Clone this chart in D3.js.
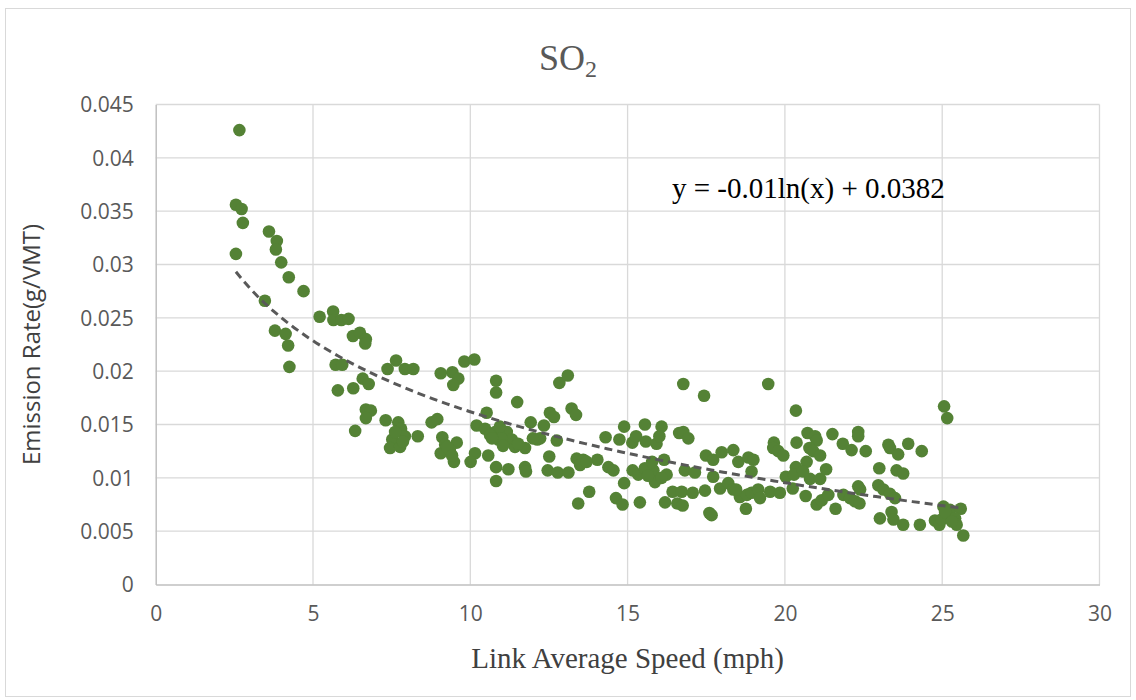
<!DOCTYPE html>
<html>
<head>
<meta charset="utf-8">
<script src="https://cdn.jsdelivr.net/npm/d3@7"></script>
<style>
  body { margin: 0; background: #fff; }
  svg { display: block; }
</style>
</head>
<body>
<div id="chart"></div>
<script>
// link average speed (mph)
const speeds = [
  2.66, 2.55, 2.73, 2.77, 2.55, 3.60, 3.85, 3.82, 3.99, 4.23, 4.70, 3.47, 3.79, 4.13, 4.21, 4.25,
  5.21, 5.64, 5.65, 5.90, 6.13, 6.27, 6.49, 6.68, 6.66, 5.72, 5.93, 5.79, 6.28, 6.58, 6.77,
  7.37, 7.64, 7.92, 8.19, 9.06, 9.43, 9.62, 9.46, 9.81, 10.13, 6.68, 6.84, 6.68, 6.34,
  7.31, 7.71, 7.80, 7.92, 7.52, 7.45, 7.77, 8.33, 8.77, 8.95, 9.11, 9.20, 9.06, 9.48, 9.57, 9.35,
  10.15, 10.01, 10.20, 9.26, 9.42, 7.61, 7.86,
  10.52, 10.47, 10.79, 10.89, 11.16, 11.32, 11.42, 11.74, 10.82, 10.82, 11.49,
  12.83, 13.10, 13.22, 13.36, 11.92, 12.34, 12.53, 12.66, 12.13, 12.75,
  10.57, 10.82, 11.21, 10.82, 11.74, 11.77, 12.51, 12.46, 12.78, 13.12, 13.38, 13.59, 13.49, 14.04,
  13.78, 13.43, 14.39, 14.55, 14.89, 14.63, 14.84, 14.30, 14.74, 14.89, 15.15, 15.27, 15.55, 15.58,
  15.16, 15.34, 15.39, 15.92, 16.08, 16.01, 15.82, 15.87, 16.16, 16.24, 16.08, 16.43, 16.19, 16.58, 16.64,
  11.00, 10.63, 12.22, 13.70, 15.55, 15.65, 15.78, 10.69, 10.94, 11.04, 11.52, 11.99,
  16.77, 17.43, 19.47, 20.35, 16.77, 16.93, 16.82, 17.14,
  17.49, 17.72, 17.99, 18.36, 18.52, 18.84, 19.00, 18.94,
  17.72, 17.94, 18.20, 18.36, 18.57, 18.79, 18.94, 19.15, 19.21, 19.53, 19.84,
  16.72, 17.07, 17.46, 16.75, 17.60, 17.67, 18.76, 19.65, 19.63, 19.79, 19.95,
  20.37, 20.72, 20.96, 21.01, 20.78, 20.90, 21.12, 20.69,
  20.35, 20.03, 20.29, 20.58, 20.80, 21.12, 21.31, 21.51, 21.84, 22.12, 22.33, 22.33, 22.57,
  20.25, 20.66, 21.01, 21.17, 21.38, 21.61, 21.86, 22.07, 22.23, 22.33, 22.37, 18.45,
  23.00, 23.29, 23.34, 23.60, 23.92, 24.35, 23.55, 23.76,
  22.97, 23.13, 23.34, 23.50, 23.39, 23.45, 23.02,
  23.76, 24.29, 24.77, 24.91, 25.04, 25.25, 25.59, 25.19, 25.41, 25.46, 25.67,
  25.06, 25.16, 22.39, 24.98, 25.09, 25.31
];

// SO2 emission rate (g/VMT), same order as speeds
const rates = [
  0.0426, 0.0356, 0.0352, 0.0339, 0.0310, 0.0331, 0.0322, 0.0314, 0.0302, 0.0288, 0.0275, 0.0266, 0.0238, 0.0235, 0.0224, 0.0204,
  0.0251, 0.0256, 0.0248, 0.0248, 0.0249, 0.0233, 0.0236, 0.0230, 0.0226, 0.0206, 0.0206, 0.0182, 0.0184, 0.0193, 0.0188,
  0.0202, 0.0210, 0.0202, 0.0202, 0.0198, 0.0199, 0.0193, 0.0187, 0.0209, 0.0211, 0.0164, 0.0163, 0.0156, 0.0144,
  0.0154, 0.0152, 0.0146, 0.0139, 0.0136, 0.0128, 0.0129, 0.0139, 0.0152, 0.0155, 0.0138, 0.0131, 0.0123, 0.0115, 0.0133, 0.0126,
  0.0123, 0.0115, 0.0149, 0.0129, 0.0121, 0.0143, 0.0134,
  0.0161, 0.0146, 0.0143, 0.0136, 0.0143, 0.0136, 0.0129, 0.0128, 0.0191, 0.0180, 0.0171,
  0.0189, 0.0196, 0.0165, 0.0159, 0.0152, 0.0149, 0.0161, 0.0157, 0.0136, 0.0135,
  0.0121, 0.0110, 0.0108, 0.0097, 0.0110, 0.0106, 0.0120, 0.0107, 0.0105, 0.0105, 0.0118, 0.0117, 0.0112, 0.0117,
  0.0087, 0.0076, 0.0110, 0.0107, 0.0095, 0.0081, 0.0075, 0.0138, 0.0136, 0.0148, 0.0133, 0.0139, 0.0150, 0.0134,
  0.0107, 0.0103, 0.0077, 0.0132, 0.0148, 0.0139, 0.0107, 0.0096, 0.0117, 0.0103, 0.0100, 0.0087, 0.0077, 0.0076, 0.0142,
  0.0137, 0.0140, 0.0137, 0.0115, 0.0109, 0.0102, 0.0115, 0.0137, 0.0148, 0.0130, 0.0132, 0.0137,
  0.0188, 0.0177, 0.0188, 0.0163, 0.0143, 0.0137, 0.0107, 0.0105,
  0.0121, 0.0117, 0.0124, 0.0126, 0.0115, 0.0119, 0.0117, 0.0106,
  0.0101, 0.0090, 0.0095, 0.0089, 0.0082, 0.0084, 0.0086, 0.0089, 0.0081, 0.0087, 0.0086,
  0.0087, 0.0086, 0.0088, 0.0074, 0.0067, 0.0065, 0.0071, 0.0133, 0.0128, 0.0125, 0.0121,
  0.0133, 0.0142, 0.0139, 0.0135, 0.0128, 0.0125, 0.0121, 0.0115,
  0.0110, 0.0101, 0.0103, 0.0106, 0.0099, 0.0099, 0.0108, 0.0141, 0.0132, 0.0126, 0.0143, 0.0139, 0.0125,
  0.0090, 0.0083, 0.0075, 0.0079, 0.0084, 0.0071, 0.0084, 0.0081, 0.0078, 0.0092, 0.0076, 0.0089,
  0.0109, 0.0131, 0.0128, 0.0122, 0.0132, 0.0125, 0.0107, 0.0104,
  0.0093, 0.0089, 0.0085, 0.0081, 0.0068, 0.0061, 0.0062,
  0.0056, 0.0056, 0.0060, 0.0056, 0.0073, 0.0070, 0.0071, 0.0064, 0.0062, 0.0056, 0.0046,
  0.0167, 0.0156, 0.0089, 0.0061, 0.0068, 0.0059
];

const xTicks = [0, 5, 10, 15, 20, 25, 30];
const yTicks = [0, 0.005, 0.01, 0.015, 0.02, 0.025, 0.03, 0.035, 0.04, 0.045];

// log trendline as drawn (label shows the rounded form)
const trendSlope = -0.0096;
const trendIntercept = 0.0383;
const trendLabel = 'y = -0.01ln(x) + 0.0382';

const width = 1136;
const height = 700;
const plot = { left: 155.7, right: 1099.5, top: 104.5, bottom: 584.5 };

const svg = d3.select('#chart')
  .append('svg')
  .attr('width', width)
  .attr('height', height);

// chart frame
svg.append('rect')
  .attr('x', 5.5)
  .attr('y', 8.5)
  .attr('width', 1125)
  .attr('height', 688)
  .attr('fill', '#fff')
  .attr('stroke', '#d9d9d9')
  .attr('stroke-width', 1);

const x = d3.scaleLinear().domain([0, 30]).range([plot.left, plot.right]);
const y = d3.scaleLinear().domain([0, 0.045]).range([plot.bottom, plot.top]);

// gridlines
const grid = svg.append('g').attr('class', 'grid');
grid.selectAll('line.v')
  .data(xTicks.slice(1))
  .join('line')
  .attr('class', 'v')
  .attr('x1', d => x(d)).attr('x2', d => x(d))
  .attr('y1', plot.top).attr('y2', plot.bottom)
  .attr('stroke', '#d9d9d9')
  .attr('stroke-width', 1.3);
grid.selectAll('line.h')
  .data(yTicks.slice(1))
  .join('line')
  .attr('class', 'h')
  .attr('x1', plot.left).attr('x2', plot.right)
  .attr('y1', d => y(d)).attr('y2', d => y(d))
  .attr('stroke', '#d9d9d9')
  .attr('stroke-width', 1.3);

// axes
const xAxis = svg.append('g')
  .attr('transform', `translate(0,${plot.bottom})`)
  .call(d3.axisBottom(x).tickValues(xTicks).tickSize(0).tickPadding(22).tickFormat(d3.format('d')));
const yAxis = svg.append('g')
  .attr('transform', `translate(${plot.left},0)`)
  .call(d3.axisLeft(y).tickValues(yTicks).tickSize(0).tickPadding(22).tickFormat(d => d === 0 ? '0' : String(+d.toFixed(3))));

[xAxis, yAxis].forEach(g => {
  g.select('.domain').attr('stroke', '#bfbfbf').attr('stroke-width', 1.5);
  g.selectAll('text')
    .attr('fill', '#595959')
    .style('font-family', '"Open Sans", sans-serif')
    .style('font-size', '21px');
});
yAxis.selectAll('text').attr('dy', '0.35em');
xAxis.selectAll('text').attr('dy', '0.71em');

// points
svg.append('g')
  .selectAll('circle')
  .data(speeds.map((s, i) => ({ s, r: rates[i] })))
  .join('circle')
  .attr('cx', d => x(d.s))
  .attr('cy', d => y(d.r))
  .attr('r', 6.3)
  .attr('fill', '#548235');

// trendline
const xMin = d3.min(speeds);
const xMax = d3.max(speeds);
const trendPts = d3.range(0, 101).map(i => {
  const s = xMin + (xMax - xMin) * i / 100;
  return [s, trendSlope * Math.log(s) + trendIntercept];
});
svg.append('path')
  .datum(trendPts)
  .attr('d', d3.line().x(d => x(d[0])).y(d => y(d[1])))
  .attr('fill', 'none')
  .attr('stroke', '#595959')
  .attr('stroke-width', 3)
  .attr('stroke-dasharray', '8,5');

// equation label
svg.append('text')
  .attr('x', 672)
  .attr('y', 198)
  .attr('fill', '#000')
  .style('font-family', '"Liberation Serif", "Times New Roman", serif')
  .style('font-size', '29px')
  .text(trendLabel);

// title
const title = svg.append('text')
  .attr('x', 568)
  .attr('y', 70)
  .attr('text-anchor', 'middle')
  .attr('fill', '#595959')
  .style('font-family', '"Liberation Serif", "Times New Roman", serif')
  .style('font-size', '36px');
title.append('tspan').text('SO');
title.append('tspan').attr('dy', 7).style('font-size', '24px').text('2');

// axis titles
svg.append('text')
  .attr('x', (plot.left + plot.right) / 2)
  .attr('y', 668)
  .attr('text-anchor', 'middle')
  .attr('fill', '#404040')
  .style('font-family', '"Liberation Serif", "Times New Roman", serif')
  .style('font-size', '29px')
  .text('Link Average Speed (mph)');

svg.append('text')
  .attr('transform', `translate(40,${(plot.top + plot.bottom) / 2}) rotate(-90)`)
  .attr('text-anchor', 'middle')
  .attr('fill', '#404040')
  .style('font-family', '"Open Sans", sans-serif')
  .style('font-size', '24px')
  .text('Emission Rate(g/VMT)');
</script>
</body>
</html>
